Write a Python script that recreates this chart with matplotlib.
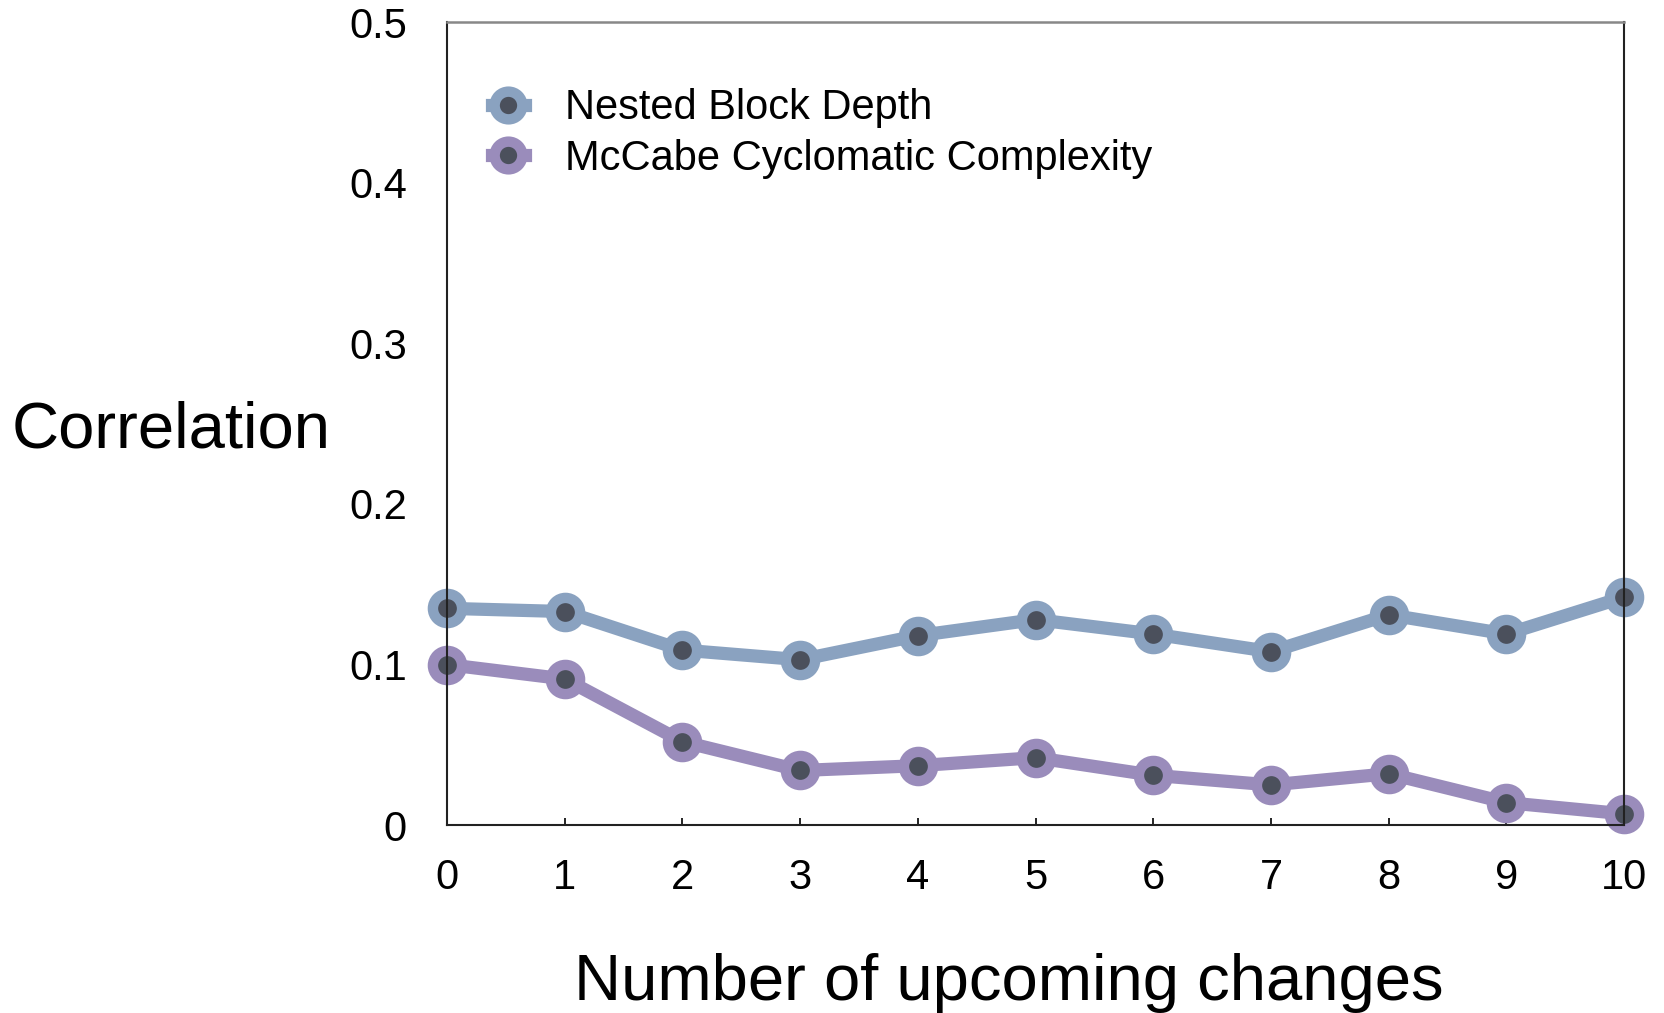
import matplotlib
matplotlib.use("Agg")
import matplotlib.pyplot as plt

# 数据
changes = [0, 1, 2, 3, 4, 5, 6, 7, 8, 9, 10]
nested_block_depth = [0.135, 0.133, 0.109, 0.103, 0.118, 0.128, 0.119, 0.108, 0.131, 0.119, 0.142]
mccabe_complexity = [0.100, 0.091, 0.052, 0.034, 0.037, 0.042, 0.031, 0.025, 0.032, 0.014, 0.007]
y_ticks = [0, 0.1, 0.2, 0.3, 0.4, 0.5]
y_tick_labels = ["0", "0.1", "0.2", "0.3", "0.4", "0.5"]

plt.rcParams['font.family'] = ['Liberation Sans', 'DejaVu Sans']

fig = plt.figure(figsize=(16.65, 10.13), dpi=100)
ax = fig.add_axes([0.2685, 0.1855, 0.707, 0.7925])

blue = "#8aa2c0"
purple = "#9a8cbb"
dot = "#4b505c"

style = dict(linewidth=9.5, marker="o", markersize=21, markeredgewidth=7.5,
             markerfacecolor=dot, clip_on=False)
ax.plot(changes, nested_block_depth, color=blue, markeredgecolor=blue,
        label="Nested Block Depth", **style)
ax.plot(changes, mccabe_complexity, color=purple, markeredgecolor=purple,
        label="McCabe Cyclomatic Complexity", **style)

ax.set_xlim(0, 10)
ax.set_ylim(0, 0.5)
ax.set_xticks(changes)
ax.set_yticks(y_ticks)
ax.set_yticklabels(y_tick_labels)
ax.tick_params(axis="x", direction="in", length=5, width=1.2, labelsize=30, pad=24)
ax.tick_params(axis="y", length=0, labelsize=30, pad=29)

for side in ["left", "right", "bottom"]:
    ax.spines[side].set_color("#222222")
    ax.spines[side].set_linewidth(1.5)
ax.spines["top"].set_color("#888888")
ax.spines["top"].set_linewidth(1.8)

# 坐标轴标题
fig.text(0.606, 0.03, "Number of upcoming changes", fontsize=47, ha="center", va="center")
fig.text(0.103, 0.575, "Correlation", fontsize=47, ha="center", va="center")

ax.legend(loc="upper left", bbox_to_anchor=(0.038, 0.918), frameon=False,
          fontsize=30, handlelength=0.8, handletextpad=0.95, labelspacing=0.25,
          borderaxespad=0, borderpad=0, markerscale=0.95)

fig.savefig("out.png", dpi=100)
